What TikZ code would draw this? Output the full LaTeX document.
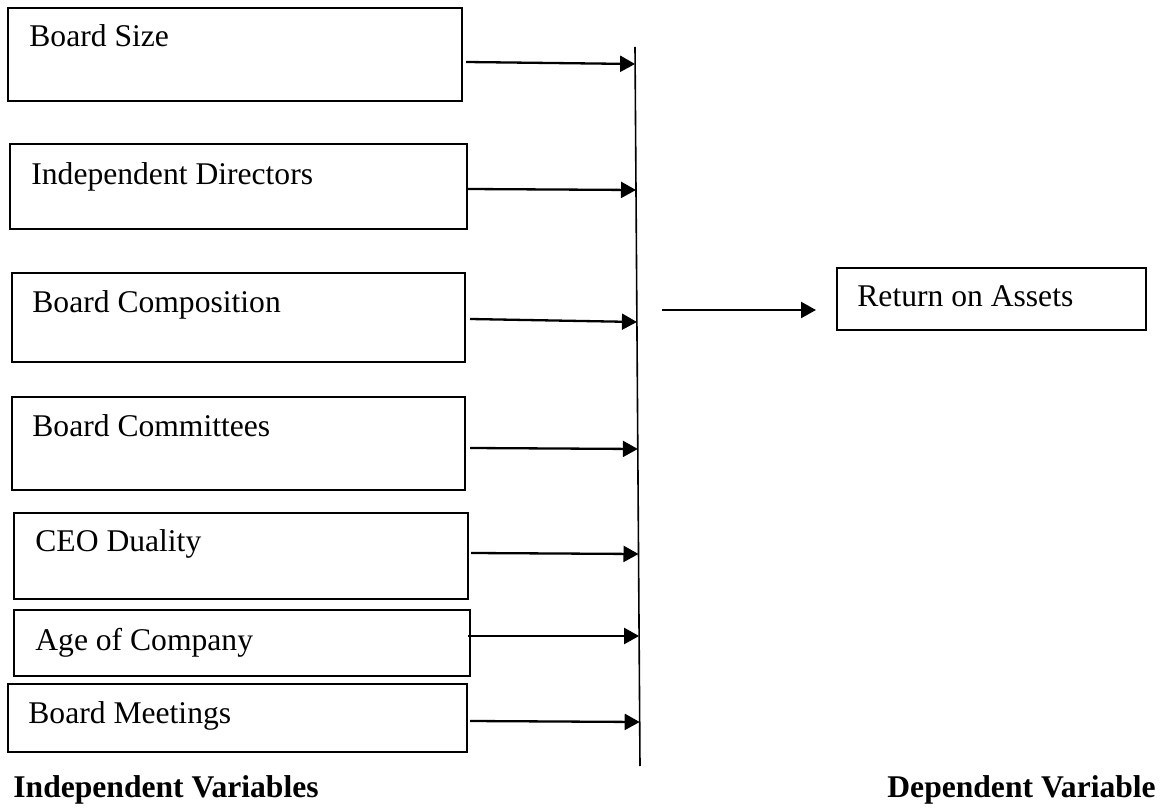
\documentclass[tikz,border=0pt]{standalone}
\usepackage{fontspec}
\setmainfont{Liberation Serif}
\usetikzlibrary{arrows.meta}
\begin{document}
\begin{tikzpicture}[x=0.5pt,y=-0.5pt,
  box/.style={draw, line width=0.9pt, rectangle, inner sep=0pt},
  lbl/.style={anchor=base west, inner sep=0pt, font=\fontsize{15.8}{19}\selectfont},
  head/.style={anchor=base west, inner sep=0pt, font=\fontsize{15.8}{19}\selectfont\bfseries},
  conn/.style={line width=1.15pt, -{Triangle[length=7.5pt,width=8pt]}},
  spine/.style={line width=0.8pt}]
\useasboundingbox (0,0) rectangle (1173,812);
% boxes
\node[box, minimum width=227pt,   minimum height=46.5pt] (b1) at (235,54.5) {};
\node[box, minimum width=228.5pt, minimum height=42.5pt] (b2) at (238.5,186.5) {};
\node[box, minimum width=226.5pt, minimum height=44.5pt] (b3) at (238.5,317.5) {};
\node[box, minimum width=226.5pt, minimum height=46.5pt] (b4) at (238.5,443.5) {};
\node[box, minimum width=227pt,   minimum height=43pt]   (b5) at (241,556) {};
\node[box, minimum width=228pt,   minimum height=33pt]   (b6) at (242,643) {};
\node[box, minimum width=229.5pt, minimum height=34pt]   (b7) at (237.5,718) {};
\node[box, minimum width=154.5pt, minimum height=31pt]   (roa) at (991.5,299) {};
% texts
\node[lbl] (l1) at (29,47) {Board Size};
\node[lbl] (l2) at (31,185) {Independent Directors};
\node[lbl] (l3) at (32,313) {Board Composition};
\node[lbl] (l4) at (32,437) {Board Committees};
\node[lbl] (l5) at (35,552) {CEO Duality};
\node[lbl] (l6) at (35,650) {Age of Company};
\node[lbl] (l7) at (28,723) {Board Meetings};
\node[lbl] (l8) at (857,307) {Return on Assets};
\node[head] (h1) at (13,797) {Independent Variables};
\node[head] (h2) at (887,797) {Dependent Variable};
% spine
\coordinate (vtop) at (635,47);
\coordinate (vbot) at (640,766);
\draw[spine] (vtop) -- (vbot);
% arrow ends
\coordinate (s1) at (466,62);  \coordinate (t1) at (635.1,64);
\coordinate (s2) at (467,189); \coordinate (t2) at (636.0,190);
\coordinate (s3) at (470,319); \coordinate (t3) at (636.9,322);
\coordinate (s4) at (470,448); \coordinate (t4) at (637.8,449);
\coordinate (s5) at (471,553); \coordinate (t5) at (638.5,554);
\coordinate (s6) at (468,636); \coordinate (t6) at (639.1,636);
\coordinate (s7) at (470,721); \coordinate (t7) at (639.7,722);
\foreach \i in {1,...,7}{\draw[conn] (s\i) -- (t\i);}
\coordinate (r1) at (662,310);
\coordinate (r2) at (816,310);
\draw[conn] (r1) -- (r2);
\end{tikzpicture}
\end{document}
